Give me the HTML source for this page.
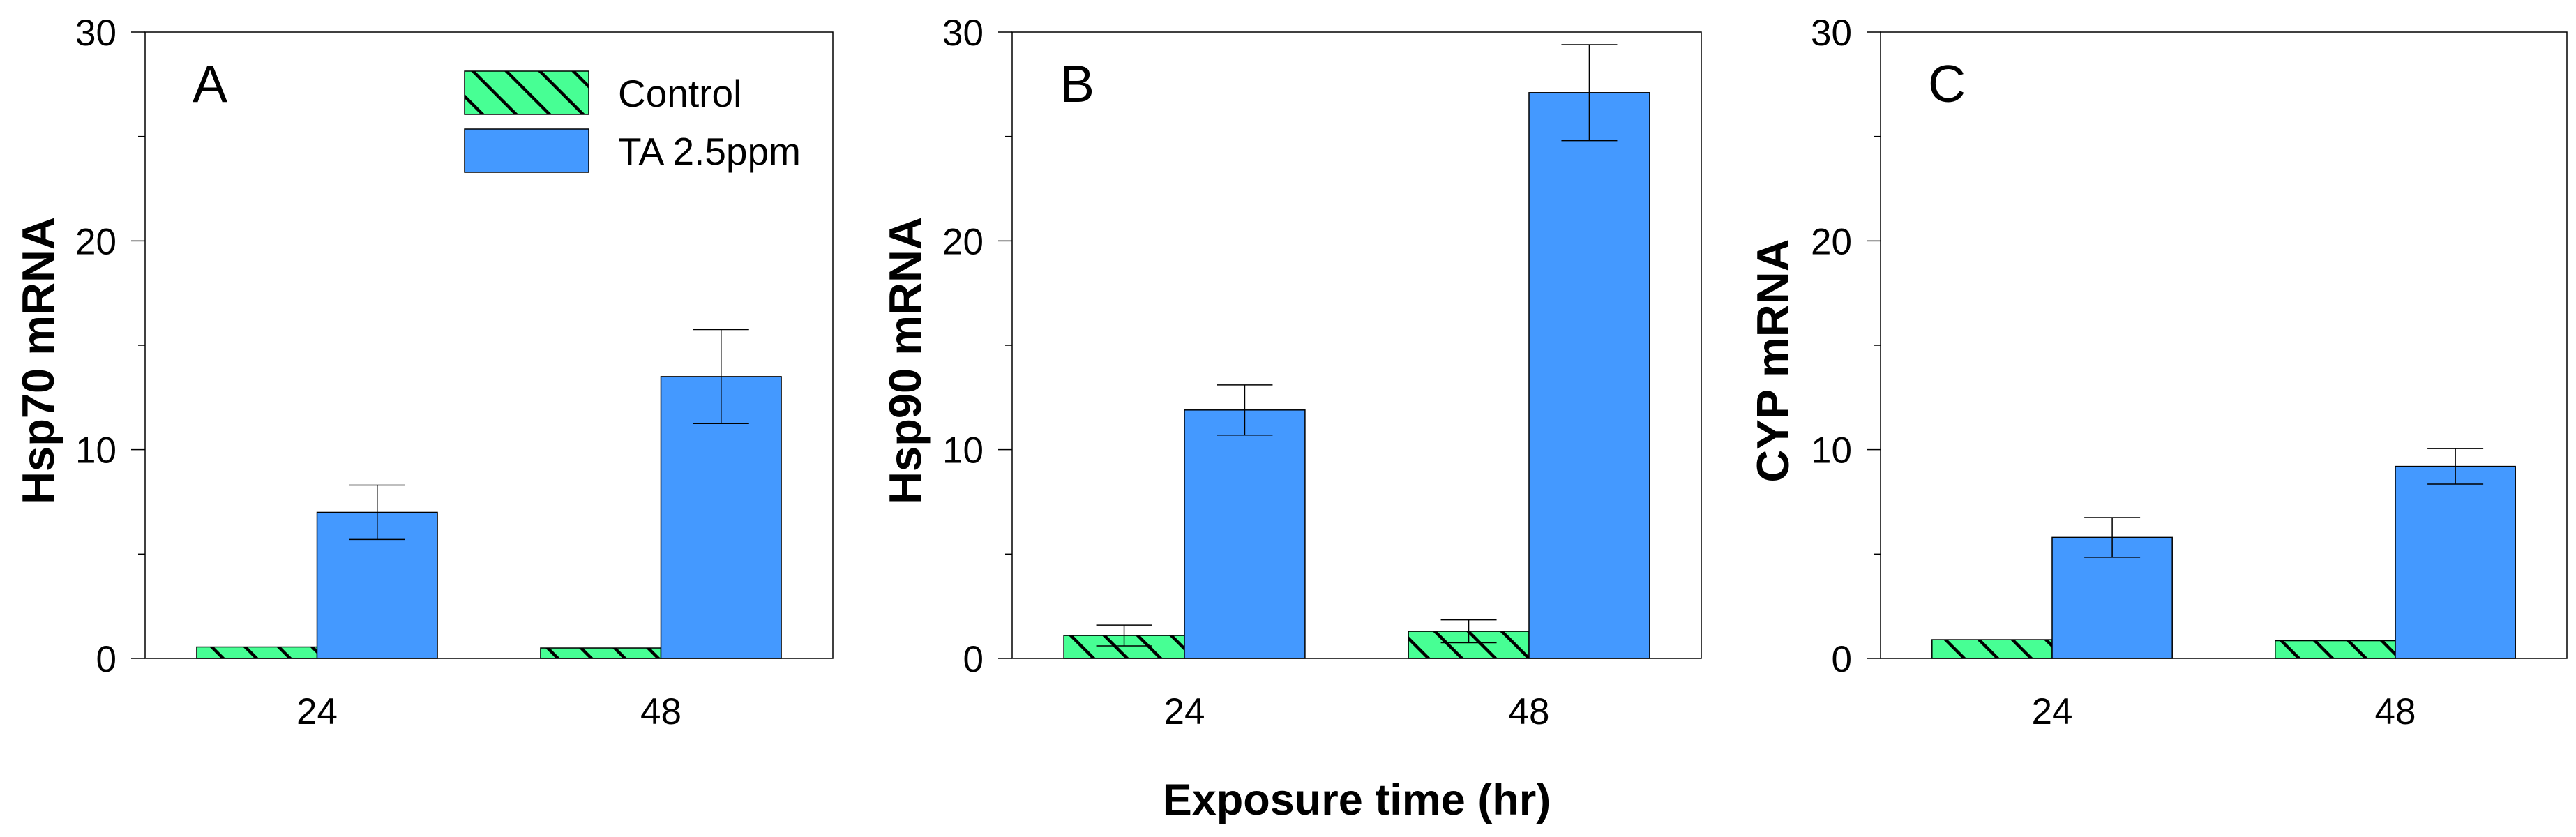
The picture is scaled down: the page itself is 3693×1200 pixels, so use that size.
<!DOCTYPE html>
<html><head><meta charset="utf-8">
<style>
html,body{margin:0;padding:0;background:#fff;}
svg{display:block;font-family:"Liberation Sans",Arial,sans-serif;}
</style></head>
<body>
<svg id="chart" width="3693" height="1200" viewBox="0 0 3693 1200" xmlns="http://www.w3.org/2000/svg">
<defs>
<pattern id="hatch" patternUnits="userSpaceOnUse" width="48" height="48">
<rect width="48" height="48" fill="#47FF94"/>
<path d="M-12,-12 L60,60 M-12,36 L12,60 M36,-12 L60,12" stroke="#000" stroke-width="4.5"/>
</pattern>
</defs>
<g id="root"></g>
<text x="1945" y="1168" font-size="63" font-weight="bold" text-anchor="middle">Exposure time (hr)</text>
</svg>
<script>
const categories = ["24", "48"];
const yTicks = [0, 10, 20, 30];
const yMinor = [5, 15, 25];
const panelLetters = ["A", "B", "C"];
const yTitles = ["Hsp70 mRNA", "Hsp90 mRNA", "CYP mRNA"];
const controlValues = [[0.55, 0.5], [1.1, 1.3], [0.9, 0.85]];
const controlErr = [[0, 0], [0.5, 0.55], [0, 0]];
const taValues = [[7.0, 13.5], [11.9, 27.1], [5.8, 9.2]];
const taErr = [[1.3, 2.25], [1.2, 2.3], [0.95, 0.85]];
const seriesNames = ["Control", "TA 2.5ppm"];

const NS = "http://www.w3.org/2000/svg";
const rootG = document.getElementById('root');
function mk(tag, attrs, parent, text) {
  const e = document.createElementNS(NS, tag);
  for (const k in attrs) e.setAttribute(k, attrs[k]);
  if (text !== undefined) e.textContent = text;
  (parent || rootG).appendChild(e);
  return e;
}
const panels = [
  {left: 208, right: 1194, titleX: 53},
  {left: 1451, right: 2439, titleX: 1296},
  {left: 2696, right: 3680, titleX: 2540}
];
const plotTop = 46, plotBottom = 944, yMax = 30;
function yScale(v) { return plotBottom - (v / yMax) * (plotBottom - plotTop); }

panels.forEach((p, pi) => {
  const g = mk('g', {});
  
  
  const w = p.right - p.left;
  function xCenter(i) { return p.left + w * (0.25 + 0.5 * i); }
  const bw = w * 0.175;
  const fr = mk('rect', {x: p.left, y: plotTop, width: w, height: plotBottom - plotTop, fill: 'none', stroke: '#000', 'stroke-width': 1.5}, g);
  
  
  yTicks.forEach(t => {
    const y = yScale(t);
    const l = mk('line', {x1: p.left - 20, x2: p.left, y1: y, y2: y, stroke: '#000', 'stroke-width': 1.5}, g);
    
    
    const tx = mk('text', {x: p.left - 41, y: y + 19, 'font-size': 53, 'text-anchor': 'end'}, g, String(t));
    
    
  });
  yMinor.forEach(t => {
    const y = yScale(t);
    const l = mk('line', {x1: p.left - 10, x2: p.left, y1: y, y2: y, stroke: '#000', 'stroke-width': 1.5}, g);
    
    
  });
  categories.forEach((c, ci) => {
    const cx = xCenter(ci);
    const tx = mk('text', {x: cx, y: 1038, 'font-size': 53, 'text-anchor': 'middle'}, g, c);
    
    
    const cv = controlValues[pi][ci];
    const b1 = mk('rect', {x: cx - bw, y: yScale(cv), width: bw, height: plotBottom - yScale(cv), fill: 'url(#hatch)', stroke: '#000', 'stroke-width': 1.5}, g);
    
    
    const tv = taValues[pi][ci];
    const b2 = mk('rect', {x: cx, y: yScale(tv), width: bw, height: plotBottom - yScale(tv), fill: '#4499FF', stroke: '#000', 'stroke-width': 1.5}, g);
    
    
    [[cx - bw / 2, cv, controlErr[pi][ci]], [cx + bw / 2, tv, taErr[pi][ci]]].forEach(([ex, v, e]) => {
      if (!e) return;
      const eg = mk('g', {stroke: '#000', 'stroke-width': 1.5}, g);
      
      
      mk('line', {x1: ex, x2: ex, y1: yScale(v + e), y2: yScale(v - e)}, eg);
      mk('line', {x1: ex - 40, x2: ex + 40, y1: yScale(v + e), y2: yScale(v + e)}, eg);
      mk('line', {x1: ex - 40, x2: ex + 40, y1: yScale(v - e), y2: yScale(v - e)}, eg);
    });
  });
  const lt = mk('text', {x: p.left + 68, y: 146, 'font-size': 75}, g, panelLetters[pi]);
  
  
  const yt = mk('text', {x: p.titleX + 24, y: 517, 'font-size': 65, 'font-weight': 'bold', 'text-anchor': 'middle', transform: 'rotate(-90 ' + (p.titleX + 24) + ' 517)'}, g, yTitles[pi]);
  
  
});

const lg = mk('g', {});


const fills = ['url(#hatch)', '#4499FF'];
const ys = [102, 185];
seriesNames.forEach((n, i) => {
  const eg = mk('g', {}, lg);
  
  
  mk('rect', {x: 666, y: ys[i], width: 178, height: 62, fill: fills[i], stroke: '#000', 'stroke-width': 1.5}, eg);
  mk('text', {x: 886, y: ys[i] + 51, 'font-size': 55}, eg, n);
});
</script>
</body></html>
